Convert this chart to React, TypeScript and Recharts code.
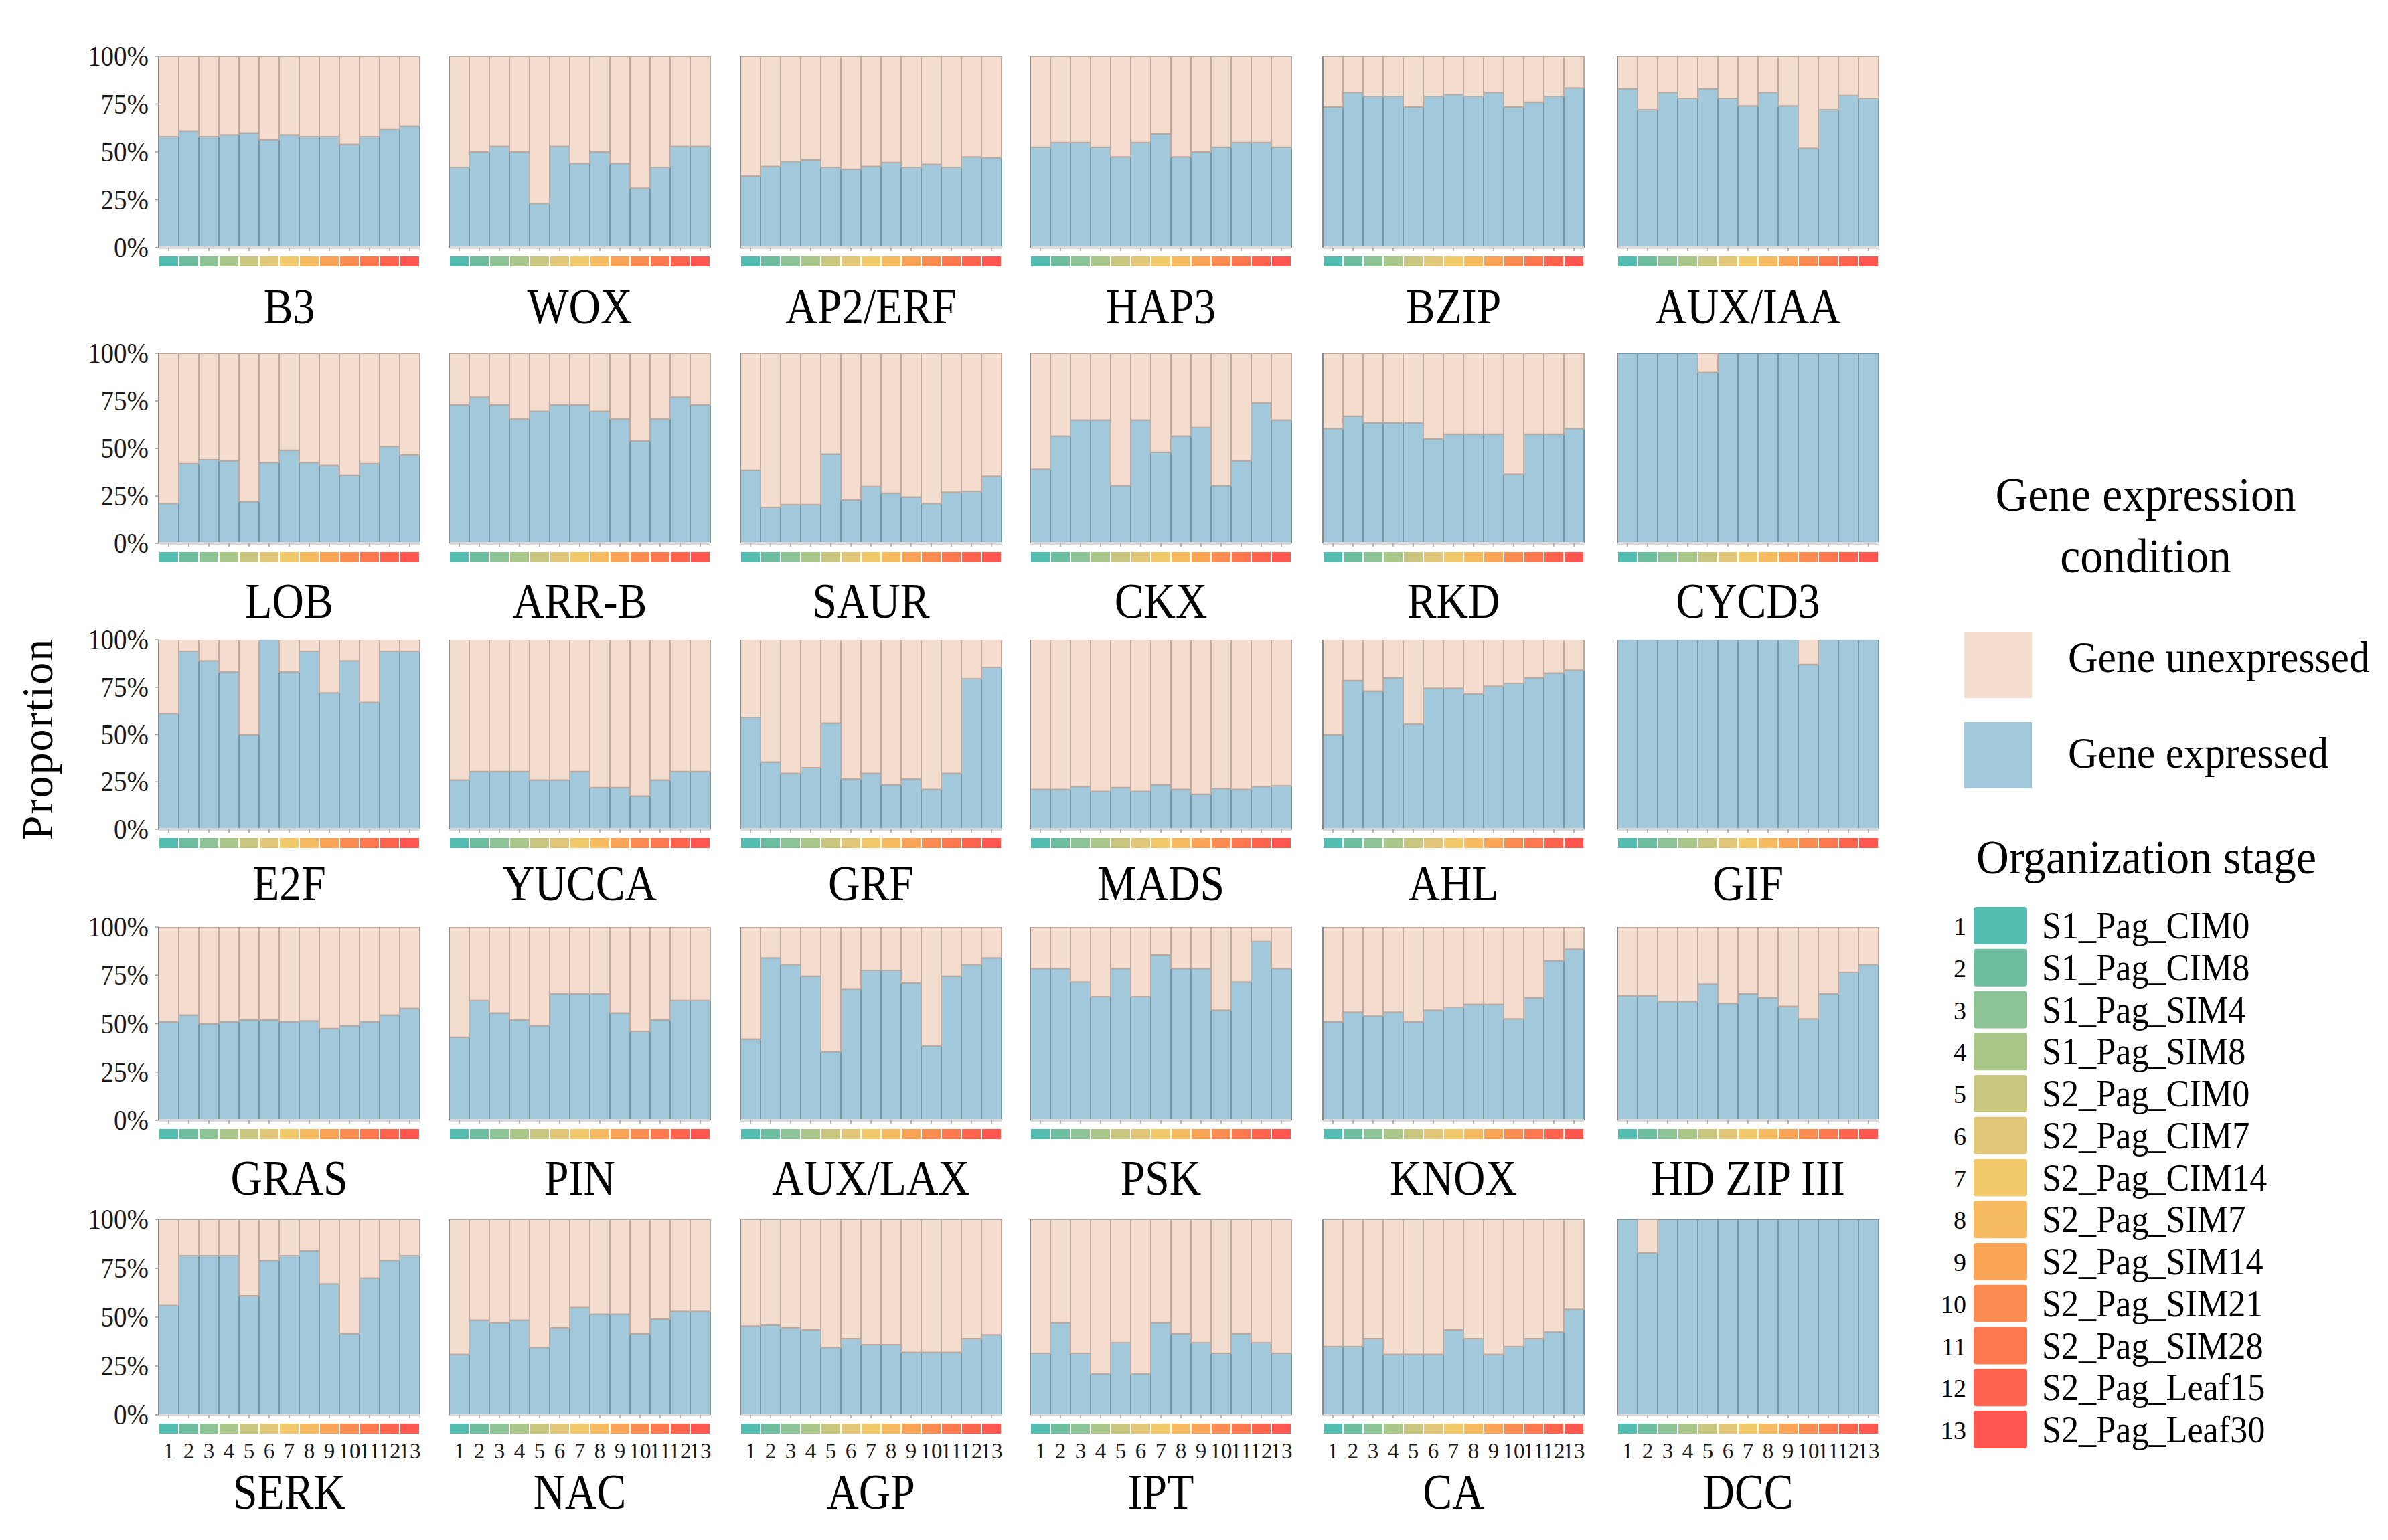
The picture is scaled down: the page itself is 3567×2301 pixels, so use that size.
import React from 'react';
import { BarChart, Bar, XAxis, YAxis } from 'recharts';

const SERIF = 'Liberation Serif';

const stageNumbers = ['1', '2', '3', '4', '5', '6', '7', '8', '9', '10', '11', '12', '13'];
const stageNames = [
  'S1_Pag_CIM0', 'S1_Pag_CIM8', 'S1_Pag_SIM4', 'S1_Pag_SIM8', 'S2_Pag_CIM0', 'S2_Pag_CIM7',
  'S2_Pag_CIM14', 'S2_Pag_SIM7', 'S2_Pag_SIM14', 'S2_Pag_SIM21', 'S2_Pag_SIM28', 'S2_Pag_Leaf15', 'S2_Pag_Leaf30',
];
const stageColors = [
  '#52BDB0', '#6DBE9F', '#8DC496', '#A9C88A', '#C8C67F', '#E2C679', '#F2C96B',
  '#F6BB60', '#F9A456', '#FB8C52', '#FD774F', '#FE644D', '#FF5650',
];

const yTicks = [0, 25, 50, 75, 100];

// expressed proportion (%) per stage
const B3 = [58, 61, 58, 59, 60, 56.5, 59, 58, 58, 54, 58, 62, 63.5];
const WOX = [42, 50, 53, 50, 23, 53, 44, 50, 44, 31, 42, 53, 53];
const AP2ERF = [37.5, 42.5, 45, 46, 42, 41, 42.5, 44.5, 42, 43.5, 42, 47.5, 47];
const HAP3 = [52.5, 55, 55, 52.5, 47.5, 55, 59.5, 47.5, 50, 52.5, 55, 55, 52.5];
const BZIP = [73.5, 81, 79, 79, 73.5, 79, 80, 79, 81, 73.5, 76, 79, 83.5];
const AUXIAA = [83, 72, 81, 78, 83, 78, 74, 81, 74, 52, 72, 79.5, 78];
const LOB = [21, 42, 44, 43.5, 22, 42.5, 49, 42.5, 41, 36, 42, 51, 46.5];
const ARRB = [73, 77, 73, 65.5, 69.5, 73, 73, 69.5, 65.5, 54, 65.5, 77, 73];
const SAUR = [38.5, 19, 20.5, 20.5, 47, 23, 30, 26.5, 24.5, 21, 27, 27.5, 35.5];
const CKX = [39, 56.5, 65, 65, 30.5, 65, 48, 56.5, 61, 30.5, 43.5, 74, 65];
const RKD = [60.5, 67, 63.5, 63.5, 63.5, 55, 57.5, 57.5, 57.5, 36.5, 57.5, 57.5, 60.5];
const CYCD3 = [100, 100, 100, 100, 90, 100, 100, 100, 100, 100, 100, 100, 100];
const E2F = [61, 94, 89, 83, 50, 100, 83, 94, 72, 89, 67, 94, 94];
const YUCCA = [26, 30.5, 30.5, 30.5, 26, 26, 30.5, 22, 22, 17.5, 26, 30.5, 30.5];
const GRF = [59, 35.5, 29.5, 32.5, 56, 26.5, 29.5, 23.5, 26.5, 21, 29.5, 79.5, 85.5];
const MADS = [21, 21, 22.5, 20, 22, 20, 23.5, 21, 18.5, 21.5, 21, 22.5, 23];
const AHL = [50, 78.5, 73, 80, 55.5, 74.5, 74.5, 71.5, 75.5, 77, 80, 82.5, 84];
const GIF = [100, 100, 100, 100, 100, 100, 100, 100, 100, 87, 100, 100, 100];
const GRAS = [51, 54.5, 50, 51, 52, 52, 51, 51.5, 47.5, 49, 51, 54.5, 58];
const PIN = [43, 62, 55.5, 52, 49, 65.5, 65.5, 65.5, 55.5, 46, 52, 62, 62];
const AUXLAX = [42, 84, 80.5, 74.5, 35.5, 68, 77.5, 77.5, 71, 38.5, 74.5, 80.5, 84];
const PSK = [78.5, 78.5, 71.5, 64, 78.5, 64, 85.5, 78.5, 78.5, 57, 71.5, 92.5, 78.5];
const KNOX = [51, 56, 54, 56, 51, 57, 58.5, 60, 60, 52.5, 63.5, 82.5, 88.5];
const HDZIP3 = [64.5, 64.5, 61.5, 61.5, 70.5, 60.5, 65.5, 63.5, 59, 52.5, 65.5, 76.5, 80.5];
const SERK = [56, 81.5, 81.5, 81.5, 61, 79, 81.5, 84, 67, 41.5, 70, 79, 81.5];
const NAC = [31, 48.5, 47, 48.5, 34.5, 44.5, 55, 51.5, 51.5, 41.5, 49, 53, 53];
const AGP = [45.5, 46, 44.5, 43.5, 34.5, 39, 36, 36, 32, 32, 32, 39, 41];
const IPT = [31.5, 47, 31.5, 21, 37, 21, 47, 41.5, 37, 31.5, 41.5, 37, 31.5];
const CA = [35, 35, 39, 31, 31, 31, 43.5, 39, 31, 35, 39, 42.5, 54];
const DCC = [100, 83, 100, 100, 100, 100, 100, 100, 100, 100, 100, 100, 100];

const familyNames = [
  ['B3', 'WOX', 'AP2/ERF', 'HAP3', 'BZIP', 'AUX/IAA'],
  ['LOB', 'ARR-B', 'SAUR', 'CKX', 'RKD', 'CYCD3'],
  ['E2F', 'YUCCA', 'GRF', 'MADS', 'AHL', 'GIF'],
  ['GRAS', 'PIN', 'AUX/LAX', 'PSK', 'KNOX', 'HD ZIP III'],
  ['SERK', 'NAC', 'AGP', 'IPT', 'CA', 'DCC'],
];
const familyValues = [
  [B3, WOX, AP2ERF, HAP3, BZIP, AUXIAA],
  [LOB, ARRB, SAUR, CKX, RKD, CYCD3],
  [E2F, YUCCA, GRF, MADS, AHL, GIF],
  [GRAS, PIN, AUXLAX, PSK, KNOX, HDZIP3],
  [SERK, NAC, AGP, IPT, CA, DCC],
];

// layout (pixels)
const COL_LEFT = [237, 671, 1106, 1539, 1976, 2416];
const PLOT_W = 390;
const ROW_TOP = [84, 528, 956, 1385, 1822];
const ROW_BOTTOM = [370, 812, 1239, 1674, 2114];
const TITLE_BASELINE = [483, 923, 1345, 1785, 2254];

const BLUE = '#A2C8DB';
const BLUE_EDGE = '#7896A5';
const PEACH = '#F4DDCF';
const PEACH_EDGE = '#BDAAA0';

function Panel({ values, row, col }: { values: number[]; row: number; col: number }) {
  const data = stageNumbers.map((s, i) => ({ stage: s, expressed: values[i], unexpressed: 100 - values[i] }));
  const top = ROW_TOP[row];
  const plotH = ROW_BOTTOM[row] - top;
  const yW = col === 0 ? 130 : 8;
  const mTop = 32;
  const showNumbers = row === 4;
  const axisH = showNumbers ? 80 : 40;
  const cellW = PLOT_W / stageNumbers.length;
  const width = yW + PLOT_W + 6;
  const height = mTop + plotH + axisH;

  const renderTick = (props: any) => {
    const { x, y, payload } = props;
    const i = stageNumbers.indexOf(String(payload.value));
    return (
      <g>
        <rect x={x - cellW / 2 + 1} y={y + 6} width={cellW - 2} height={15} fill={stageColors[i]} />
        {showNumbers && (
          <text x={x} y={y + 58} textAnchor="middle" fontSize={33} fontFamily={SERIF} fill="#1a1a1a">
            {payload.value}
          </text>
        )}
      </g>
    );
  };

  const renderYTick = (props: any) => {
    const { x, y, payload } = props;
    return (
      <text
        transform={`translate(${x}, ${y + 14}) scale(0.95, 1.05)`}
        textAnchor="end"
        fontSize={41}
        fontFamily={SERIF}
        fill="#1a1a1a"
      >
        {`${payload.value}%`}
      </text>
    );
  };

  return (
    <div style={{ position: 'absolute', left: COL_LEFT[col] - yW, top: top - mTop }}>
      <BarChart
        width={width}
        height={height}
        data={data}
        margin={{ top: mTop, right: 6, left: 0, bottom: 0 }}
        barCategoryGap={0}
        barGap={0}
      >
        <XAxis
          dataKey="stage"
          interval={0}
          height={axisH}
          axisLine={{ stroke: '#d9d9d9', strokeWidth: 4 }}
          tickLine={{ stroke: '#a0a0a0', strokeWidth: 1.5 }}
          tickSize={5}
          tickMargin={2}
          tick={renderTick}
        />
        <YAxis
          width={yW}
          domain={[0, 100]}
          ticks={yTicks}
          allowDataOverflow
          axisLine={{ stroke: '#8a8a8a', strokeWidth: 2 }}
          tickLine={{ stroke: '#9a9a9a', strokeWidth: 1.5 }}
          tickSize={5}
          tickMargin={10}
          tick={col === 0 ? renderYTick : false}
        />
        <Bar dataKey="expressed" stackId="a" fill={BLUE} stroke={BLUE_EDGE} strokeWidth={2} isAnimationActive={false} />
        <Bar dataKey="unexpressed" stackId="a" fill={PEACH} stroke={PEACH_EDGE} strokeWidth={2} isAnimationActive={false} />
      </BarChart>
    </div>
  );
}

function Overlay() {
  const items = stageNames.map((n, i) => ({ n, i, cy: 1383 + i * 62.75 }));
  return (
    <svg width={3567} height={2301} style={{ position: 'absolute', left: 0, top: 0, pointerEvents: 'none' }} fontFamily={SERIF}>
      {familyNames.map((rowNames, r) =>
        rowNames.map((nm, c) => (
          <text
            key={nm}
            transform={`translate(${COL_LEFT[c] + PLOT_W / 2}, ${TITLE_BASELINE[r]}) scale(0.9, 1)`}
            textAnchor="middle"
            fontSize={73}
            fontFamily={SERIF}
            fill="#000"
          >
            {nm}
          </text>
        ))
      )}
      <text transform="translate(78, 1104) rotate(-90)" textAnchor="middle" fontSize={66} fontFamily={SERIF} letterSpacing={2} fill="#000">
        Proportion
      </text>

      <text transform="translate(3205, 763) scale(0.94, 1)" textAnchor="middle" fontSize={72} fontFamily={SERIF} fill="#000">
        Gene expression
      </text>
      <text transform="translate(3205, 855) scale(0.94, 1)" textAnchor="middle" fontSize={72} fontFamily={SERIF} fill="#000">
        condition
      </text>
      <rect x={2934} y={944} width={101} height={99} fill={PEACH} />
      <rect x={2934} y={1079} width={101} height={99} fill={BLUE} />
      <text transform="translate(3089, 1004) scale(0.95, 1)" fontSize={65} fontFamily={SERIF} fill="#000">
        Gene unexpressed
      </text>
      <text transform="translate(3089, 1147) scale(0.95, 1)" fontSize={65} fontFamily={SERIF} fill="#000">
        Gene expressed
      </text>

      <text transform="translate(3206, 1305) scale(0.94, 1)" textAnchor="middle" fontSize={72} fontFamily={SERIF} fill="#000">
        Organization stage
      </text>
      {items.map(({ n, i, cy }) => (
        <g key={n}>
          <text x={2937} y={cy + 14} textAnchor="end" fontSize={38} fontFamily={SERIF} fill="#000">
            {stageNumbers[i]}
          </text>
          <rect x={2948} y={cy - 28} width={80} height={56} rx={4} fill={stageColors[i]} />
          <text transform={`translate(3050, ${cy + 19}) scale(0.9, 1)`} fontSize={58} fontFamily={SERIF} fill="#000">
            {n}
          </text>
        </g>
      ))}
    </svg>
  );
}

export default function App() {
  return (
    <div
      style={{
        position: 'absolute', left: 0, top: 0, width: 3567, height: 2301,
        background: '#fff', overflow: 'hidden', fontFamily: SERIF,
      }}
    >
      {familyNames.map((rowNames, r) =>
        rowNames.map((nm, c) => <Panel key={nm} values={familyValues[r][c]} row={r} col={c} />)
      )}
      <Overlay />
    </div>
  );
}
